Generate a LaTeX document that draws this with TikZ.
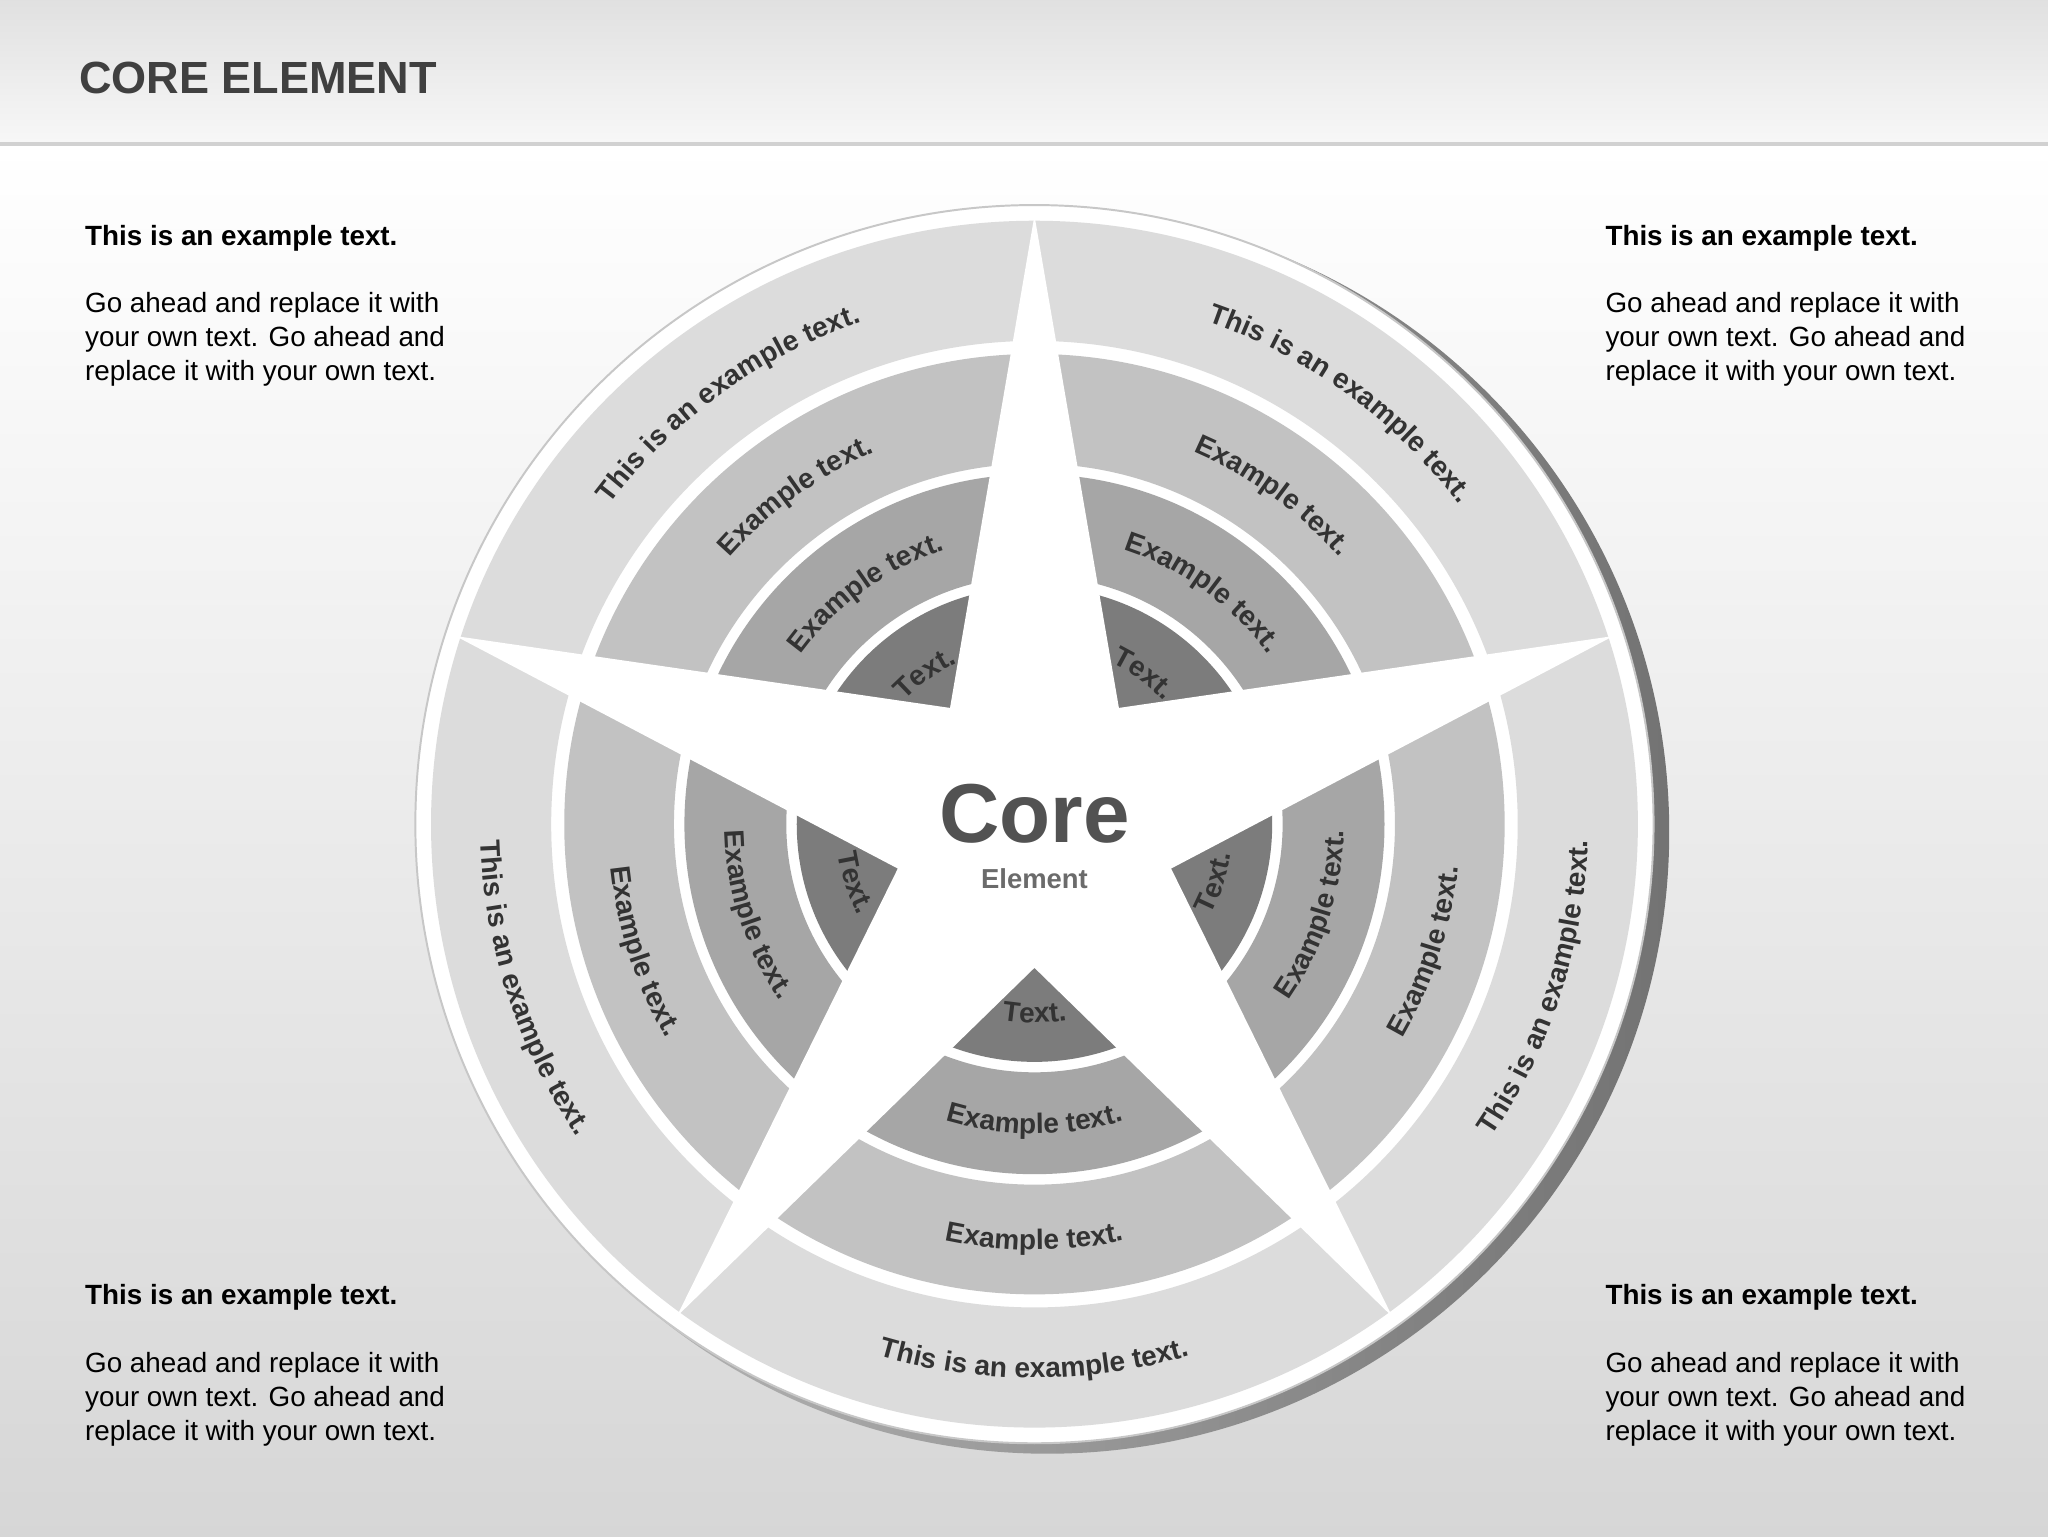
\documentclass[tikz,border=0pt]{standalone}
\usepackage{fontspec}
\setmainfont{Liberation Sans}
\usetikzlibrary{decorations.text}
\definecolor{bandA}{HTML}{DCDCDC}
\definecolor{bandB}{HTML}{C2C2C2}
\definecolor{bandC}{HTML}{A6A6A6}
\definecolor{bandD}{HTML}{7C7C7C}
\definecolor{txt}{HTML}{333333}
\tikzset{
 cw/.style n args={3}{decorate,decoration={text along path,text align=center,
   text={|\color{txt}\bfseries\fontsize{#3}{#3}\selectfont|#2}}},
 side/.style={anchor=north west,align=left,font=\fontsize{21.3}{26}\selectfont,text=black,inner sep=0pt}
}
\begin{document}
\begin{tikzpicture}[x=1pt,y=1pt]
\useasboundingbox (0,0) rectangle (1568,1176);
\shade[top color=white,bottom color=black!16] (0,0) rectangle (1568,1066);
\shade[top color=black!12,bottom color=black!3] (0,1066) rectangle (1568,1176);
\fill[black!18] (0,1064) rectangle (1568,1067);
\node[anchor=west,font=\bfseries\fontsize{34.5}{34.5}\selectfont,text=black!75] (title) at (57,1116) {CORE ELEMENT};
% corner texts
\node[side] (tl) at (65,1004) {\textbf{This is an example text.}\\[26pt]Go ahead and replace it with\\your own text. Go ahead and\\replace it with your own text.};
\node[side] (tr) at (1229,1004) {\textbf{This is an example text.}\\[26pt]Go ahead and replace it with\\your own text. Go ahead and\\replace it with your own text.};
\node[side] (bl) at (65,193) {\textbf{This is an example text.}\\[26pt]Go ahead and replace it with\\your own text. Go ahead and\\replace it with your own text.};
\node[side] (br) at (1229,193) {\textbf{This is an example text.}\\[26pt]Go ahead and replace it with\\your own text. Go ahead and\\replace it with your own text.};
\begin{scope}[shift={(792,545)}]
\shade[left color=black!25,right color=black!55] (10,-6) circle[radius=476];
\fill[white,draw=black!22,line width=1.5pt] (0,0) circle[radius=474];
\fill[bandA,even odd rule] (0,0) circle[radius=462] circle[radius=370];
\fill[bandB,even odd rule] (0,0) circle[radius=360] circle[radius=276];
\fill[bandC,even odd rule] (0,0) circle[radius=268] circle[radius=190];
\fill[bandD,even odd rule] (0,0) circle[radius=182] circle[radius=104];
\fill[white] (90:466) -- (126:110) -- (162:466) -- (198:110) -- (234:466) -- (270:110) -- (306:466) -- (342:110) -- (18:466) -- (54:110) -- cycle;
\fill[white] (0,0) circle[radius=104];
\node[font=\bfseries\fontsize{64}{64}\selectfont,text=black!68] (core) at (0,-77+85) {Core};
\node[font=\bfseries\fontsize{21}{21}\selectfont,text=black!58] (elem) at (0,-127+85) {Element};
% top segments, clockwise
\foreach \a in {126,54}{
 \path[cw={}{This is an example text.}{21.5}] (\a+34:407) arc[start angle=\a+34,end angle=\a-34,radius=407];
 \path[cw={}{Example text.}{21.5}] (\a+34:310) arc[start angle=\a+34,end angle=\a-34,radius=310];
 \path[cw={}{Example text.}{21.5}] (\a+34:221) arc[start angle=\a+34,end angle=\a-34,radius=221];
 \path[cw={}{Text.}{21.5}] (\a+34:137) arc[start angle=\a+34,end angle=\a-34,radius=137];
}
% other segments, counter-clockwise
\foreach \a in {198,270,342}{
 \path[cw={}{This is an example text.}{21.5}] (\a-34:424) arc[start angle=\a-34,end angle=\a+34,radius=424];
 \path[cw={}{Example text.}{21.5}] (\a-34:326) arc[start angle=\a-34,end angle=\a+34,radius=326];
 \path[cw={}{Example text.}{21.5}] (\a-34:237) arc[start angle=\a-34,end angle=\a+34,radius=237];
 \path[cw={}{Text.}{21.5}] (\a-34:152) arc[start angle=\a-34,end angle=\a+34,radius=152];
}
\end{scope}
\end{tikzpicture}
\end{document}
